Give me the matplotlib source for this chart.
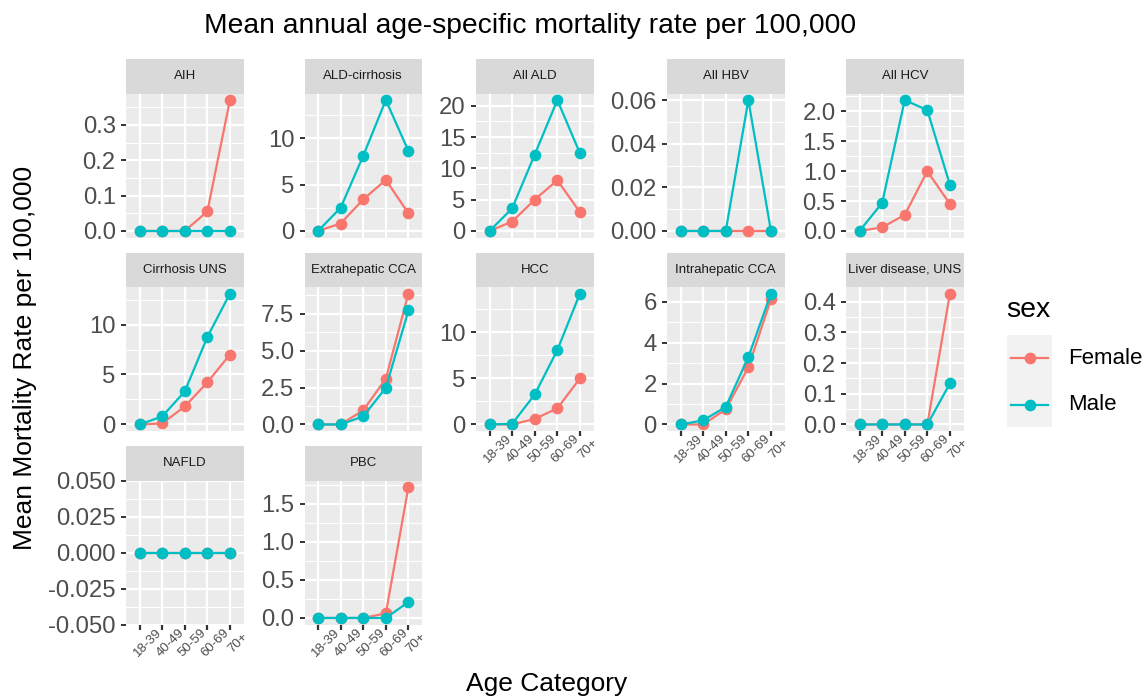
import matplotlib
matplotlib.use("Agg")
import matplotlib.pyplot as plt
from matplotlib.transforms import ScaledTranslation, blended_transform_factory
from matplotlib.lines import Line2D

plt.rcParams['font.family'] = ['Liberation Sans', 'DejaVu Sans']

ages = ['18-39', '40-49', '50-59', '60-69', '70+']
diseases = ['AIH', 'ALD-cirrhosis', 'All ALD', 'All HBV', 'All HCV',
            'Cirrhosis UNS', 'Extrahepatic CCA', 'HCC', 'Intrahepatic CCA',
            'Liver disease, UNS', 'NAFLD', 'PBC']
female = [
    [0, 0, 0, 0.055, 0.37],
    [0, 0.8, 3.4, 5.5, 1.9],
    [0, 1.5, 5.0, 8.1, 3.0],
    [0, 0, 0, 0, 0],
    [0, 0.06, 0.27, 1.0, 0.45],
    [0, 0.1, 1.8, 4.2, 7.0],
    [0, 0, 0.96, 3.1, 8.86],
    [0, 0, 0.6, 1.75, 5.0],
    [0, 0, 0.74, 2.8, 6.13],
    [0, 0, 0, 0, 0.427],
    [0, 0, 0, 0, 0],
    [0, 0, 0, 0.06, 1.72],
]
male = [
    [0, 0, 0, 0, 0],
    [0, 2.5, 8.1, 14.1, 8.6],
    [0, 3.6, 12.2, 20.9, 12.4],
    [0, 0, 0, 0.06, 0],
    [0, 0.47, 2.19, 2.02, 0.77],
    [0, 0.8, 3.3, 8.75, 13.1],
    [0, 0, 0.55, 2.48, 7.72],
    [0, 0.07, 3.25, 8.07, 14.2],
    [0, 0.2, 0.86, 3.3, 6.41],
    [0, 0, 0, 0, 0.134],
    [0, 0, 0, 0, 0],
    [0, 0, 0, 0, 0.21],
]
y_breaks = [
    [0, 0.1, 0.2, 0.3],
    [0, 5, 10],
    [0, 5, 10, 15, 20],
    [0, 0.02, 0.04, 0.06],
    [0, 0.5, 1.0, 1.5, 2.0],
    [0, 5, 10],
    [0, 2.5, 5.0, 7.5],
    [0, 5, 10],
    [0, 2, 4, 6],
    [0, 0.1, 0.2, 0.3, 0.4],
    [-0.05, -0.025, 0, 0.025, 0.05],
    [0, 0.5, 1.0, 1.5],
]

F_COL = '#F8766D'
M_COL = '#00BFC4'

W, H = 1145, 697
fig = plt.figure(figsize=(W / 100, H / 100), dpi=100)

col_left = [126, 304.5, 476, 667, 846]
row_top = [59, 252.5, 446]
PW, SH, PH = 117.5, 34.5, 144


def rect(x, y, w, h):
    return [x / W, 1 - (y + h) / H, w / W, h / H]


def decimals(vals):
    d = 0
    for v in vals:
        while abs(round(v, d) - v) > 1e-9 and d < 5:
            d += 1
    return d


n = len(diseases)
for i, name in enumerate(diseases):
    r, c = divmod(i, 5)
    x0, y0 = col_left[c], row_top[r]

    sax = fig.add_axes(rect(x0, y0, PW, SH))
    sax.set_facecolor('#D9D9D9')
    sax.set_xticks([])
    sax.set_yticks([])
    for s in sax.spines.values():
        s.set_visible(False)
    sax.text(0.5, 0.5, name, ha='center', va='center', fontsize=9.5,
             color='#1A1A1A', transform=sax.transAxes)

    ax = fig.add_axes(rect(x0, y0 + SH, PW, PH))
    ax.set_facecolor('#EBEBEB')
    for s in ax.spines.values():
        s.set_visible(False)

    xs = list(range(len(ages)))
    ax.plot(xs, female[i], color=F_COL, lw=1.6, marker='o', ms=7.4, zorder=3)
    ax.plot(xs, male[i], color=M_COL, lw=1.6, marker='o', ms=7.4, zorder=4)

    lo = min(female[i] + male[i])
    hi = max(female[i] + male[i])
    if hi == lo:
        ylim = (lo - 0.05, hi + 0.05)
    else:
        span = hi - lo
        ylim = (lo - 0.05 * span, hi + 0.05 * span)
    ax.set_xlim(-0.6, len(ages) - 0.4)
    ax.set_ylim(*ylim)

    br = y_breaks[i]
    nd = decimals(br)
    ax.set_yticks(br)
    ax.set_yticklabels([f'{b:.{nd}f}' for b in br])
    step = br[1] - br[0]
    minors = [br[0] - step / 2] + [(a + b) / 2 for a, b in zip(br[:-1], br[1:])] + [br[-1] + step / 2]
    minors = [m for m in minors if ylim[0] <= m <= ylim[1]]
    ax.set_yticks(minors, minor=True)
    ax.set_xticks(xs)

    ax.grid(True, which='major', color='white', lw=1.6, zorder=0)
    ax.grid(True, which='minor', axis='y', color='white', lw=0.85, zorder=0)
    ax.set_axisbelow(True)
    ax.tick_params(axis='y', which='major', length=3.4, width=1.4, color='#333333',
                   labelsize=17.2, labelcolor='#4D4D4D', pad=4)
    ax.tick_params(axis='y', which='minor', length=0)

    bottom = i + 5 >= n
    if bottom:
        ax.tick_params(axis='x', length=3.6, width=1.6, color='#333333', labelbottom=False)
        tr = blended_transform_factory(ax.transData, ax.transAxes) + \
            ScaledTranslation(0.08, -0.18, fig.dpi_scale_trans)
        for xv, lab in zip(xs, ages):
            ax.text(xv, 0, lab, transform=tr, rotation=45, rotation_mode='anchor',
                    ha='center', va='center', fontsize=9.5, color='#4D4D4D')
    else:
        ax.tick_params(axis='x', length=0, labelbottom=False)

fig.text(530 / W, 1 - 26 / H, 'Mean annual age-specific mortality rate per 100,000',
         ha='center', va='center', fontsize=20.3, color='black')
fig.text(25 / W, 1 - 358 / H, 'Mean Mortality Rate per 100,000', rotation=90,
         ha='center', va='center', fontsize=19, color='black')
fig.text(547 / W, 1 - 684 / H, 'Age Category', ha='center', va='center',
         fontsize=19, color='black')

# legend
fig.text(1006 / W, 1 - 310 / H, 'sex', ha='left', va='center', fontsize=20.5, color='black')
lax = fig.add_axes(rect(1007, 335, 45, 92))
lax.set_facecolor('#F2F2F2')
lax.set_xlim(0, 1)
lax.set_ylim(0, 1)
lax.set_xticks([])
lax.set_yticks([])
for s in lax.spines.values():
    s.set_visible(False)
for yk, col, lab in [(0.75, F_COL, 'Female'), (0.24, M_COL, 'Male')]:
    lax.add_line(Line2D([0.09, 0.91], [yk, yk], color=col, lw=1.6))
    lax.plot([0.5], [yk], marker='o', ms=7.4, color=col)
    fig.text(1068 / W, 1 - (427 - yk * 92) / H, lab, ha='left', va='center',
             fontsize=16, color='black')

fig.savefig('out.png', dpi=100)
